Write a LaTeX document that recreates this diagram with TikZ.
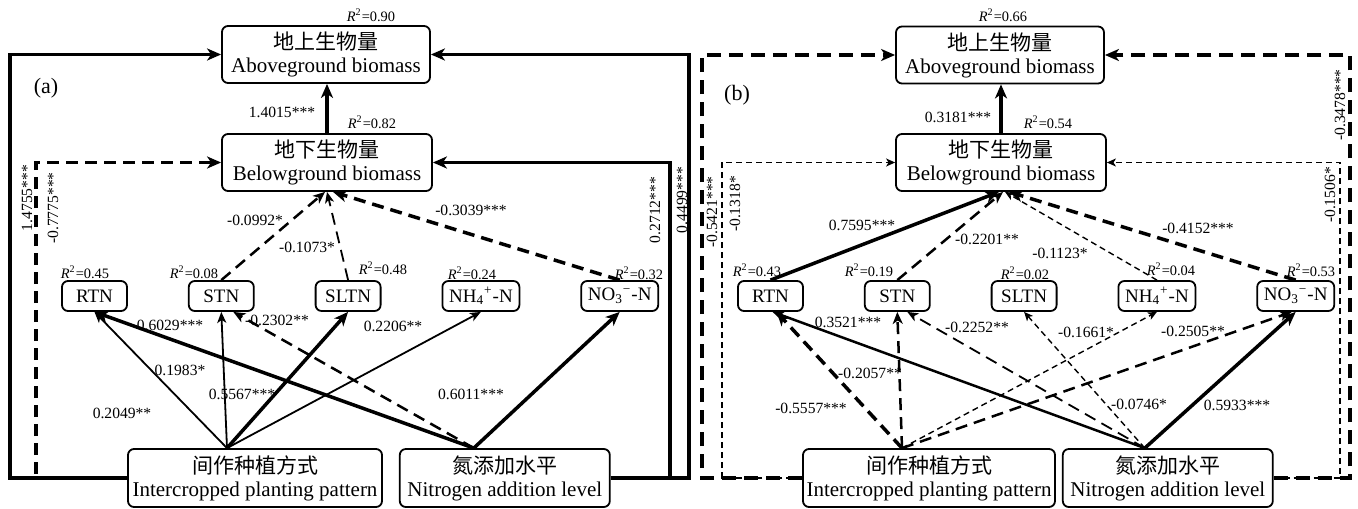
\documentclass[tikz,border=0pt]{standalone}
\usepackage{fontspec}
\setmainfont{Liberation Serif}
\newfontfamily\cjk{Noto Sans CJK SC}
\usepackage{tikz}
\usetikzlibrary{positioning,arrows.meta}

\newcommand{\rsq}[1]{\textit{R}\textsuperscript{2}=#1}

\begin{document}
\begin{tikzpicture}[x=0.5pt, y=-0.5pt, node distance=4pt and 30pt,
  bigbox/.style={draw, line width=0.9pt, rounded corners=3pt, align=center,
                 font=\fontsize{10.5}{11.5}\selectfont,
                 minimum width=104pt, minimum height=28.5pt, inner sep=1pt},
  smallbox/.style={draw, line width=0.9pt, rounded corners=3pt,
                   font=\fontsize{9.5}{10}\selectfont,
                   minimum width=32.5pt, minimum height=15pt, inner sep=1pt},
  coef/.style={font=\fontsize{7.8}{8}\selectfont, inner sep=0pt},
  rlab/.style={font=\fontsize{7.2}{8}\selectfont, inner sep=0pt},
  heavy/.style={line width=1.75pt, -{Stealth[length=7pt,width=6pt,inset=2pt]}},
  mid/.style={line width=1.25pt, -{Stealth[length=6pt,width=5pt,inset=1.7pt]}},
  fine/.style={line width=0.9pt, -{Stealth[length=5.5pt,width=4.5pt,inset=1.5pt]}},
  hair/.style={line width=0.7pt, -{Stealth[length=4.5pt,width=4pt,inset=1.2pt]}},
  ldash/.style={dash pattern=on 6pt off 3.5pt},
  sdash/.style={dash pattern=on 3pt off 2pt}]
\useasboundingbox (0,0) rectangle (1358,508);

% panel (a)
\node[bigbox] (ab_a) at (326,54.5) {{\cjk 地上生物量}\\Aboveground biomass};
\node[bigbox, minimum width=105pt] (bb_a) at (327,162.5) {{\cjk 地下生物量}\\Belowground biomass};
\node[smallbox] (rtn_a) at (94.5,296) {RTN};
\node[smallbox, right=of rtn_a] (stn_a) {STN};
\node[smallbox, right=of stn_a] (sltn_a) {SLTN};
\node[smallbox, right=of sltn_a, minimum width=38.5pt] (nh_a) {NH\textsubscript{4}\textsuperscript{+}-N};
\node[smallbox, right=of nh_a, minimum width=38.5pt] (no_a) {NO\textsubscript{3}\textsuperscript{−}-N};
\node[bigbox, minimum width=127pt, minimum height=29pt] (ip_a) at (255,478)
  {{\cjk 间作种植方式}\\Intercropped planting pattern};
\node[bigbox, minimum width=105pt, minimum height=29pt, right=8pt of ip_a] (nl_a)
  {{\cjk 氮添加水平}\\Nitrogen addition level};
\node[font=\fontsize{11}{12}\selectfont] (pa) at (46,88) {(a)};

\coordinate (ipa) at ([xshift=-14pt]ip_a.north);
\coordinate (nla) at ([xshift=-15.5pt]nl_a.north);
\coordinate (fa1) at (10,478);
\coordinate (fa2) at (36,478);
\coordinate (fa3) at (689,478);
\coordinate (fa4) at (670,478);

\draw[heavy] (ip_a.west) -- (fa1) |- (ab_a.west);
\draw[heavy, ldash] (ip_a.west) -- (fa2) |- (bb_a.west);
\draw[heavy] (nl_a.east) -- (fa3) |- (ab_a.east);
\draw[heavy] (nl_a.east) -- (fa4) |- (bb_a.east);
\draw[heavy] (bb_a.north) -- (bb_a.north |- ab_a.south);
\draw[mid, ldash] (stn_a.north) -- ([xshift=-1pt]bb_a.south);
\draw[fine, ldash] (sltn_a.north) -- (bb_a.south);
\draw[heavy, ldash] (no_a.north) -- ([xshift=3pt]bb_a.south);
\draw[fine] (ipa) -- (rtn_a.south);
\draw[fine] (ipa) -- (stn_a.south);
\draw[heavy] (ipa) -- (sltn_a.south);
\draw[fine] (ipa) -- (nh_a.south);
\draw[heavy] (nla) -- (rtn_a.south);
\draw[mid, ldash] (nla) -- ([xshift=6pt]stn_a.south);
\draw[heavy] (nla) -- (no_a.south);

\node[rlab] (qa0) at (371,15) {\rsq{0.90}};
\node[rlab] (qb0) at (372,122) {\rsq{0.82}};
\foreach \px/\py/\v [count=\i] in {85/272/0.45, 194/272/0.08, 383/268/0.48,
    472/273/0.24, 639/273/0.32}
  \node[rlab] (qa\i) at (\px,\py) {\rsq{\v}};
\foreach \px/\py/\txt [count=\i] in {282/112/1.4015***, 255/220/-0.0992*,
    307/247/-0.1073*, 471/210/-0.3039***, 170/325/0.6029***, 277/320/-0.2302**,
    180/370/0.1983*, 242/394/0.5567***, 122/413/0.2049**, 393/326/0.2206**,
    471/394/0.6011***}
  \node[coef] (ca\i) at (\px,\py) {\txt};
\foreach \px/\py/\txt [count=\i] in {27/198/1.4755***, 53/208/-0.7775***,
    655/210/0.2712***, 682/200/0.4499***}
  \node[coef, rotate=90] (ra\i) at (\px,\py) {\txt};

% panel (b)
\node[bigbox] (ab_b) at (1000,55) {{\cjk 地上生物量}\\Aboveground biomass};
\node[bigbox, minimum width=105pt] (bb_b) at (1001,162.5) {{\cjk 地下生物量}\\Belowground biomass};
\node[smallbox] (rtn_b) at (770.5,296) {RTN};
\node[smallbox, right=of rtn_b] (stn_b) {STN};
\node[smallbox, right=of stn_b] (sltn_b) {SLTN};
\node[smallbox, right=of sltn_b, minimum width=38.5pt] (nh_b) {NH\textsubscript{4}\textsuperscript{+}-N};
\node[smallbox, right=of nh_b, minimum width=38.5pt] (no_b) {NO\textsubscript{3}\textsuperscript{−}-N};
\node[bigbox, minimum width=126pt, minimum height=29pt] (ip_b) at (929,478)
  {{\cjk 间作种植方式}\\Intercropped planting pattern};
\node[bigbox, minimum width=105pt, minimum height=29pt, right=3pt of ip_b] (nl_b)
  {{\cjk 氮添加水平}\\Nitrogen addition level};
\node[font=\fontsize{11}{12}\selectfont] (pb) at (737,95) {(b)};

\coordinate (ipb) at ([xshift=-13.5pt]ip_b.north);
\coordinate (nlb) at ([xshift=-11.5pt]nl_b.north);
\coordinate (fb1) at (702,478);
\coordinate (fb2) at (722,478);
\coordinate (fb3) at (1350,478);
\coordinate (fb4) at (1340,478);

\draw[heavy, line width=2pt, dash pattern=on 7pt off 4pt] (ip_b.west) -- (fb1) |- (ab_b.west);
\draw[hair, sdash] (ip_b.west) -- (fb2) |- (bb_b.west);
\draw[heavy, line width=2pt, dash pattern=on 7pt off 4pt] (nl_b.east) -- (fb3) |- (ab_b.east);
\draw[hair, sdash] (nl_b.east) -- (fb4) |- (bb_b.east);
\draw[heavy] (bb_b.north) -- (bb_b.north |- ab_b.south);
\draw[heavy] (rtn_b.north) -- ([xshift=-1pt]bb_b.south);
\draw[mid, ldash] (stn_b.north) -- ([xshift=1pt]bb_b.south);
\draw[hair, sdash] (nh_b.north) -- ([xshift=2pt]bb_b.south);
\draw[heavy, ldash] (no_b.north) -- ([xshift=4pt]bb_b.south);
\draw[heavy, ldash] (ipb) -- ([xshift=3pt]rtn_b.south);
\draw[mid, ldash] (ipb) -- (stn_b.south);
\draw[hair, sdash] (ipb) -- (nh_b.south);
\draw[mid, ldash] (ipb) -- ([xshift=-2pt]no_b.south);
\draw[mid] (nlb) -- ([xshift=1pt]rtn_b.south);
\draw[fine, ldash] (nlb) -- ([xshift=5pt]stn_b.south);
\draw[hair, sdash] (nlb) -- (sltn_b.south);
\draw[heavy] (nlb) -- (no_b.south);

\node[rlab] (qc0) at (1003,15) {\rsq{0.66}};
\node[rlab] (qd0) at (1048,122) {\rsq{0.54}};
\foreach \px/\py/\v [count=\i] in {757/270/0.43, 869/270/0.19, 1025/273/0.02,
    1171/269/0.04, 1311/270/0.53}
  \node[rlab] (qb\i) at (\px,\py) {\rsq{\v}};
\foreach \px/\py/\txt [count=\i] in {958/117/0.3181***, 862/225/0.7595***,
    987/239/-0.2201**, 1060/253/-0.1123*, 1198/228/-0.4152***, 848/322/0.3521***,
    977/327/-0.2252**, 870/373/-0.2057**, 811/408/-0.5557***, 1086/332/-0.1661*,
    1193/331/-0.2505**, 1139/404/-0.0746*, 1237/405/0.5933***}
  \node[coef] (cb\i) at (\px,\py) {\txt};
\foreach \px/\py/\txt [count=\i] in {712/212/-0.5421***, 735/204/-0.1318*,
    1340/105/-0.3478***, 1330/195/-0.1506*}
  \node[coef, rotate=90] (rb\i) at (\px,\py) {\txt};
\end{tikzpicture}
\end{document}
